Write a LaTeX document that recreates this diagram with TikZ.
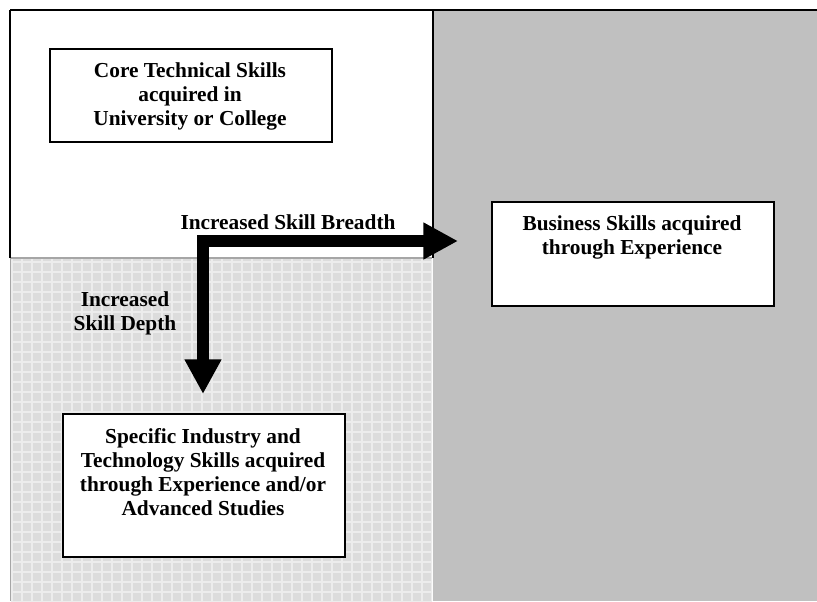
\documentclass[tikz,border=0pt]{standalone}
\usepackage{fontspec}
\setmainfont{Liberation Serif}
\usetikzlibrary{arrows.meta}
\definecolor{rightgray}{RGB}{192,192,192}
\definecolor{hatchgray}{RGB}{220,220,220}
\definecolor{hatchline}{RGB}{236,236,236}
\tikzset{
  skillbox/.style={draw=black, line width=1.2pt, fill=white, inner sep=0pt, anchor=north west},
  lbl/.style={font=\bfseries\fontsize{16}{18}\selectfont, align=center, inner sep=0pt},
  bigarrow/.style={line width=9pt, -{Triangle[width=26pt,length=26pt]}}
}
\begin{document}
\begin{tikzpicture}[x=0.75pt,y=-0.75pt]
\useasboundingbox (0,0) rectangle (817,601);
\fill[white] (0,0) rectangle (817,601);
% right gray region
\fill[rightgray] (433,10) rectangle (817,601);
% hatched region
\fill[hatchgray] (10,258) rectangle (432,601);
\begin{scope}
\clip (11,259) rectangle (432,601);
\foreach \i in {0,...,43} {\draw[hatchline, line width=0.8pt] (12+\i*10,258) -- (12+\i*10,601);}
\foreach \j in {0,...,34} {\draw[hatchline, line width=0.8pt] (10,262+\j*10) -- (432,262+\j*10);}
\end{scope}
\draw[gray!70, line width=1.5pt] (10,258) -- (432,258);
\draw[gray!70, line width=1.2pt] (10.5,258) -- (10.5,601);
% white region borders
\draw[black, line width=1.5pt] (10,10) -- (817,10);
\draw[black, line width=1.5pt] (10,10) -- (10,258);
\draw[black, line width=1.5pt] (433,10) -- (433,258);
% boxes
\node[skillbox, minimum width=282*0.75pt, minimum height=93*0.75pt] (core) at (49,48) {};
\node[lbl] (coretxt) at (190,96) {Core Technical Skills\\acquired in\\University or College};
\node[skillbox, minimum width=282*0.75pt, minimum height=104*0.75pt] (business) at (491,201) {};
\node[lbl] (bustxt) at (632,237) {Business Skills acquired\\through Experience};
\node[skillbox, minimum width=282*0.75pt, minimum height=143*0.75pt] (specific) at (62,413) {};
\node[lbl] (spectxt) at (203,472) {Specific Industry and\\Technology Skills acquired\\through Experience and/or\\Advanced Studies};
% labels
\node[lbl] (breadth) at (288,222) {Increased Skill Breadth};
\node[lbl] (depth) at (125,313) {Increased\\Skill Depth};
% arrows
\coordinate (corner) at (203,241);
\coordinate (htip) at (458,241);
\coordinate (vtip) at (203,394);
\draw[bigarrow] ([xshift=-4.5pt]corner) -- (htip);
\draw[bigarrow] ([yshift=4.5pt]corner) -- (vtip);
\end{tikzpicture}
\end{document}
